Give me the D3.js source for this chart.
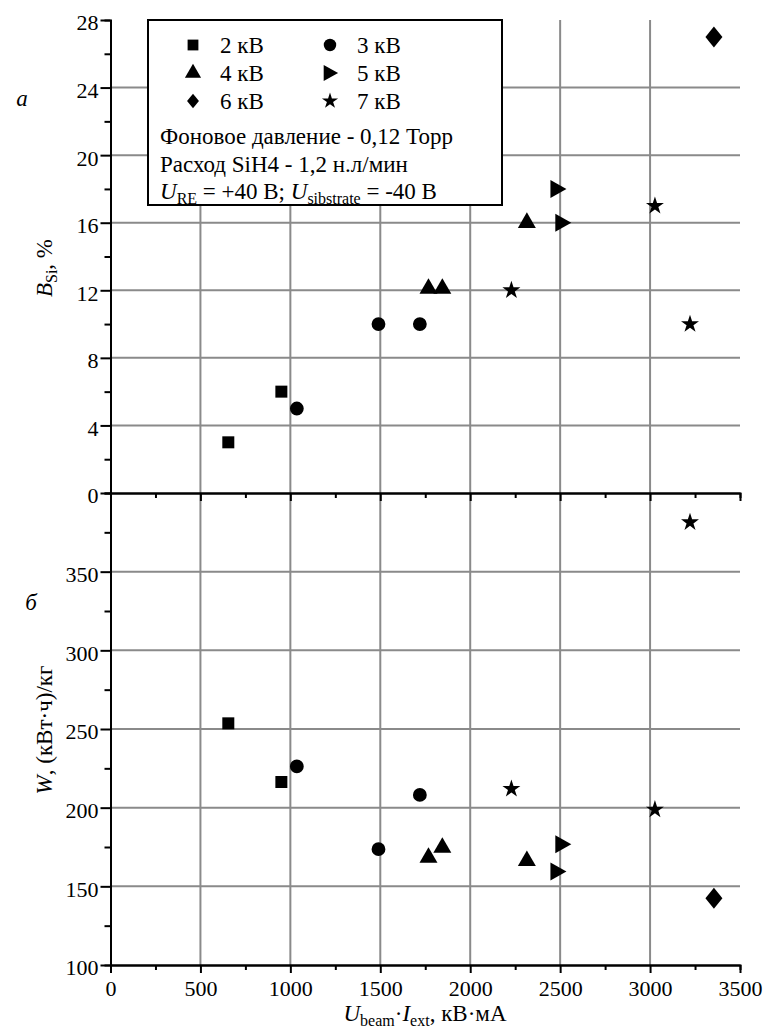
<!DOCTYPE html>
<html>
<head>
<meta charset="utf-8">
<script src="https://cdn.jsdelivr.net/npm/d3@7/dist/d3.min.js"></script>
<style>
  body { margin: 0; background: #fff; }
  svg text { font-family: "Liberation Serif", "Times New Roman", "DejaVu Serif", serif !important; fill: #000; }
</style>
</head>
<body>
<div id="chart"></div>
<script>
// data: x = U_beam*I_ext (кВ*мА), B_Si (%) top, W ((кВт*ч)/кг) bottom
var seriesNames = ["2 кВ", "3 кВ", "4 кВ", "5 кВ", "6 кВ", "7 кВ"];
var power2kV = [655, 950],        bsi2kV = [3.0, 6.0],          w2kV = [253.6, 216.3];
var power3kV = [1036, 1490, 1720], bsi3kV = [5.0, 10.0, 10.0],  w3kV = [226.2, 173.6, 208.1];
var power4kV = [1768, 1845, 2315], bsi4kV = [12.1, 12.1, 16.0], w4kV = [168.3, 174.6, 166.2];
var power5kV = [2485, 2512],       bsi5kV = [18.0, 16.0],       w5kV = [159.5, 176.7];
var power6kV = [3355],             bsi6kV = [27.0],             w6kV = [142.4];
var power7kV = [2229, 3027, 3222], bsi7kV = [12.0, 17.0, 10.0], w7kV = [211.9, 198.8, 381.4];
var xTicks = [0, 500, 1000, 1500, 2000, 2500, 3000, 3500];
var topTicks = [0, 4, 8, 12, 16, 20, 24, 28];
var bottomTicks = [100, 150, 200, 250, 300, 350];
var legendNotes = ["Фоновое давление - 0,12 Торр", "Расход SiH4 - 1,2 н.л/мин"];

var allPower = [power2kV, power3kV, power4kV, power5kV, power6kV, power7kV];
var allBsi = [bsi2kV, bsi3kV, bsi4kV, bsi5kV, bsi6kV, bsi7kV];
var allW = [w2kV, w3kV, w4kV, w5kV, w6kV, w7kV];

var width = 764, height = 1032;
var svg = d3.select("#chart").append("svg")
    .attr("width", width)
    .attr("height", height);

var x = d3.scaleLinear().domain([0, 3500]).range([110.5, 740]);
var yTop = d3.scaleLinear().domain([0, 28]).range([493, 20]);
var yBottom = d3.scaleLinear().domain([100, 400]).range([965, 493]);

// marker shapes, one per series
var shapes = [
    function (s) { return d3.symbol(d3.symbolSquare, 144 * s * s)(); },
    function (s) { return d3.symbol(d3.symbolCircle, 150 * s * s)(); },
    function (s) { return d3.symbol(d3.symbolTriangle, 140 * s * s)(); },
    function (s) { return "M" + (-7 * s) + "," + (-9 * s) + "L" + (9 * s) + ",0L" + (-7 * s) + "," + (9 * s) + "Z"; },
    function (s) { return "M0," + (-10.5 * s) + "L" + (8.5 * s) + ",0L0," + (10.5 * s) + "L" + (-8.5 * s) + ",0Z"; },
    function (s) { return d3.symbol(d3.symbolStar, 100 * s * s)(); }
];

// grid
var grid = svg.append("g").attr("stroke", "#8a8a8a").attr("stroke-width", 2);
grid.selectAll(".vgrid")
    .data(xTicks.filter(function (d) { return d > 0 && d < 3500; }))
    .enter().append("line")
    .attr("x1", function (d) { return x(d); })
    .attr("x2", function (d) { return x(d); })
    .attr("y1", yTop(28)).attr("y2", yBottom(100));
grid.selectAll(".hgridTop")
    .data(topTicks.filter(function (d) { return d > 0 && d < 28; }))
    .enter().append("line")
    .attr("x1", x(0)).attr("x2", x(3500))
    .attr("y1", function (d) { return yTop(d); })
    .attr("y2", function (d) { return yTop(d); });
grid.selectAll(".hgridBottom")
    .data(bottomTicks.filter(function (d) { return d > 100; }))
    .enter().append("line")
    .attr("x1", x(0)).attr("x2", x(3500))
    .attr("y1", function (d) { return yBottom(d); })
    .attr("y2", function (d) { return yBottom(d); });

// axes
function styleAxis(g) {
    g.attr("font-family", null);
    g.select(".domain").attr("stroke", "#000").attr("stroke-width", 2);
    g.selectAll(".tick line").attr("stroke", "#000").attr("stroke-width", 2);
    g.selectAll(".tick text").attr("font-size", 22);
}
svg.append("g").attr("transform", "translate(" + x(0) + ",0)")
    .call(d3.axisLeft(yTop).tickValues(topTicks).tickSize(10).tickSizeOuter(0).tickPadding(2))
    .call(styleAxis)
    .call(function (g) { g.selectAll(".tick text").attr("dy", "0.45em"); });
svg.append("g").attr("transform", "translate(" + x(0) + ",0)")
    .call(d3.axisLeft(yTop).tickValues(d3.range(2, 28, 4)).tickSize(6).tickFormat(""))
    .call(styleAxis);
svg.append("g").attr("transform", "translate(" + x(0) + ",0)")
    .call(d3.axisLeft(yBottom).tickValues(bottomTicks).tickSize(10).tickSizeOuter(0).tickPadding(2))
    .call(styleAxis)
    .call(function (g) { g.selectAll(".tick text").attr("dy", "0.45em"); });
svg.append("g").attr("transform", "translate(" + x(0) + ",0)")
    .call(d3.axisLeft(yBottom).tickValues(d3.range(125, 400, 50)).tickSize(6).tickFormat(""))
    .call(styleAxis);

// shared middle axis and bottom axis
[yTop(0), yBottom(100)].forEach(function (yPos, i) {
    svg.append("g").attr("transform", "translate(0," + yPos + ")")
        .call(d3.axisBottom(x).tickValues(xTicks).tickSize(8).tickSizeOuter(0)
            .tickFormat(i === 1 ? d3.format("d") : ""))
        .call(styleAxis)
        .call(function (g) { g.selectAll(".tick text").attr("dy", "0.9em"); });
    svg.append("g").attr("transform", "translate(0," + yPos + ")")
        .call(d3.axisBottom(x).tickValues(d3.range(250, 3500, 500)).tickSize(5).tickFormat(""))
        .call(styleAxis);
});

// legend box
var lg = svg.append("g");
lg.append("rect")
    .attr("x", 148).attr("y", 20).attr("width", 354).attr("height", 185)
    .attr("fill", "#fff").attr("stroke", "#000").attr("stroke-width", 2);
seriesNames.forEach(function (name, i) {
    var col = i % 2, row = Math.floor(i / 2);
    var sx = col === 0 ? 193 : 330, sy = 45 + row * 28;
    lg.append("path")
        .attr("d", shapes[i](i === 4 ? 0.7 : 0.9))
        .attr("transform", "translate(" + sx + "," + sy + ")")
        .attr("fill", "#000");
    lg.append("text")
        .attr("x", sx + 27).attr("y", sy + 8)
        .attr("font-size", 23)
        .text(name);
});
legendNotes.forEach(function (note, i) {
    lg.append("text").attr("x", 160).attr("y", 144 + i * 28)
        .attr("font-size", 23).text(note);
});
var uLine = lg.append("text").attr("x", 160).attr("y", 199).attr("font-size", 23);
uLine.append("tspan").attr("font-style", "italic").text("U");
uLine.append("tspan").attr("font-size", 16).attr("dy", 5).text("RE");
uLine.append("tspan").attr("dy", -5).text(" = +40 В; ");
uLine.append("tspan").attr("font-style", "italic").text("U");
uLine.append("tspan").attr("font-size", 16).attr("dy", 5).text("sibstrate");
uLine.append("tspan").attr("dy", -5).text(" = -40 В");

// points
allPower.forEach(function (xs, i) {
    var pts = xs.map(function (p, j) { return { p: p, b: allBsi[i][j], w: allW[i][j] }; });
    svg.append("g").selectAll("path.top")
        .data(pts).enter().append("path")
        .attr("d", shapes[i](1))
        .attr("transform", function (d) { return "translate(" + x(d.p) + "," + yTop(d.b) + ")"; })
        .attr("fill", "#000");
    svg.append("g").selectAll("path.bottom")
        .data(pts).enter().append("path")
        .attr("d", shapes[i](1))
        .attr("transform", function (d) { return "translate(" + x(d.p) + "," + yBottom(d.w) + ")"; })
        .attr("fill", "#000");
});

// panel letters
svg.append("text").attr("x", 22).attr("y", 106).attr("font-size", 23)
    .attr("font-style", "italic").attr("text-anchor", "middle").text("а");
svg.append("text").attr("x", 31).attr("y", 610).attr("font-size", 23)
    .attr("font-style", "italic").attr("text-anchor", "middle").text("б");

// axis titles
var tTop = svg.append("text")
    .attr("transform", "translate(52,268) rotate(-90)")
    .attr("text-anchor", "middle").attr("font-size", 23);
tTop.append("tspan").attr("font-style", "italic").text("B");
tTop.append("tspan").attr("font-size", 16).attr("dy", 5).text("Si");
tTop.append("tspan").attr("dy", -5).text(", %");

var tBottom = svg.append("text")
    .attr("transform", "translate(52,730) rotate(-90)")
    .attr("text-anchor", "middle").attr("font-size", 23);
tBottom.append("tspan").attr("font-style", "italic").text("W");
tBottom.append("tspan").text(", (кВт·ч)/кг");

var tX = svg.append("text")
    .attr("x", 425).attr("y", 1021)
    .attr("text-anchor", "middle").attr("font-size", 23);
tX.append("tspan").attr("font-style", "italic").text("U");
tX.append("tspan").attr("font-size", 16).attr("dy", 5).text("beam");
tX.append("tspan").attr("dy", -5).text("·");
tX.append("tspan").attr("font-style", "italic").text("I");
tX.append("tspan").attr("font-size", 16).attr("dy", 5).text("ext");
tX.append("tspan").attr("dy", -5).text(", кВ·мА");
</script>
</body>
</html>
